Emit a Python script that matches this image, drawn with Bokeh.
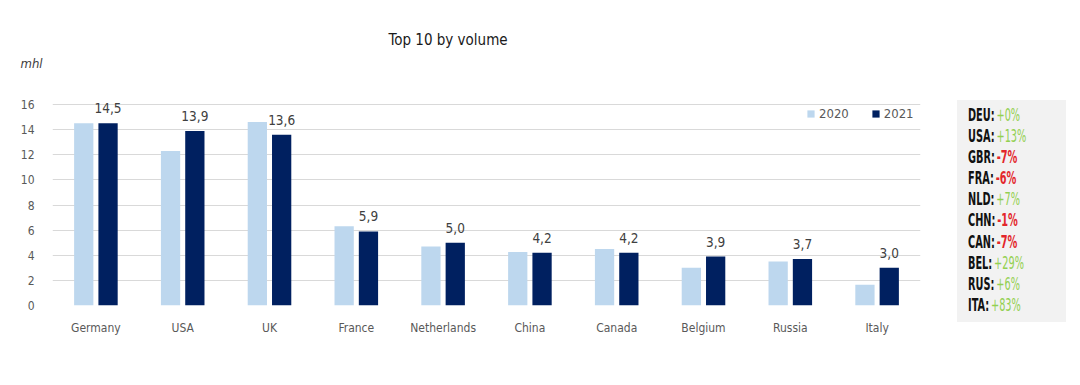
from bokeh.plotting import figure
from bokeh.models import (ColumnDataSource, FactorRange, Range1d, FixedTicker, Legend,
                          LegendItem, Title, Div)
from bokeh.transform import dodge
from bokeh.layouts import row
from bokeh.core.properties import value
from bokeh.embed import file_html
from bokeh.resources import INLINE

countries = ["Germany", "USA", "UK", "France", "Netherlands", "China", "Canada", "Belgium", "Russia", "Italy"]
vol_2020 = [14.5, 12.3, 14.6, 6.3, 4.7, 4.25, 4.5, 3.0, 3.5, 1.65]
vol_2021 = [14.5, 13.9, 13.6, 5.9, 5.0, 4.2, 4.2, 3.9, 3.7, 3.0]
labels_2021 = ["14,5", "13,9", "13,6", "5,9", "5,0", "4,2", "4,2", "3,9", "3,7", "3,0"]
y_ticks = [0, 2, 4, 6, 8, 10, 12, 14, 16]
codes = ["DEU:", "USA:", "GBR:", "FRA:", "NLD:", "CHN:", "CAN:", "BEL:", "RUS:", "ITA:"]
changes = ["+0%", "+13%", "-7%", "-6%", "+7%", "-1%", "-7%", "+29%", "+6%", "+83%"]

FONT = "DejaVu Sans Condensed, Roboto, sans-serif"
C20 = "#bdd7ee"
C21 = "#002060"

src = ColumnDataSource(dict(c=countries, v20=vol_2020, v21=vol_2021, lab=labels_2021))

H = 360
p = figure(width=930, height=H, x_range=FactorRange(factors=countries, range_padding=0),
           y_range=Range1d(0, 18.31), output_backend="svg", toolbar_location=None,
           min_border_left=52, min_border_right=10, min_border_top=75, min_border_bottom=55)
p.outline_line_color = None
p.background_fill_color = "white"

r20 = p.vbar(x=dodge("c", -0.14, range=p.x_range), top="v20", width=0.222, source=src,
             fill_color=C20, line_color=None)
r21 = p.vbar(x=dodge("c", 0.14, range=p.x_range), top="v21", width=0.222, source=src,
             fill_color=C21, line_color=None)
p.text(x=dodge("c", 0.14, range=p.x_range), y="v21", text="lab", source=src,
       text_align="center", text_baseline="bottom", y_offset=-10,
       text_font=value(FONT), text_font_size="13.5px", text_color="#404040")

p.xgrid.grid_line_color = None
p.ygrid.grid_line_color = "#d9d9d9"
p.ygrid.ticker = FixedTicker(ticks=y_ticks)
p.yaxis.ticker = FixedTicker(ticks=y_ticks)
for ax in (p.xaxis[0], p.yaxis[0]):
    ax.axis_line_color = None
    ax.major_tick_line_color = None
    ax.minor_tick_line_color = None
    ax.major_label_text_font = FONT
    ax.major_label_text_font_size = "12px"
    ax.major_label_text_color = "#595959"
p.yaxis.major_label_standoff = 12
p.xaxis.major_label_standoff = 9

legend = Legend(items=[LegendItem(label="2020", renderers=[r20]),
                       LegendItem(label="2021", renderers=[r21])],
                orientation="horizontal", location=(754, 184),
                glyph_width=9, glyph_height=9, label_standoff=4, spacing=22,
                label_text_font=FONT, label_text_font_size="13px", label_text_color="#595959",
                label_height=16, padding=0, margin=0, border_line_color=None,
                background_fill_alpha=0)
p.add_layout(legend)

p.title = Title(text="Top 10 by volume", align="left", offset=336, standoff=2,
                text_font=FONT, text_font_style="normal", text_font_size="15px",
                text_color="#1a1a1a")
p.add_layout(Title(text="mhl", align="left", offset=-32, standoff=9,
                   text_font=FONT, text_font_style="italic", text_font_size="13px",
                   text_color="#404040"), "above")

# side box with year-on-year changes
lines = []
for c, ch in zip(codes, changes):
    neg = ch.startswith("-")
    col = "#e3262b" if neg else "#92d050"
    wt = "bold" if neg else "normal"
    lines.append(f'<div style="transform:scaleX(0.62);transform-origin:left center;white-space:nowrap">'
                 f'<span style="color:#111;font-weight:bold">{c}</span>'
                 f'<span style="color:{col};font-weight:{wt};margin-left:3px">{ch}</span></div>')
side_html = (
    '<div style="box-sizing:border-box;margin-left:27px;margin-top:100px;width:109px;height:222px;'
    'padding:5px 0 0 11px;background:#f2f2f2;'
    "font-family:'DejaVu Sans Condensed','Roboto',sans-serif;font-size:17.5px;"
    'line-height:21.1px;">' + "".join(lines) + '</div>'
)
side = Div(text=side_html, width=134, height=H, margin=0)

layout = row(p, side)
open("out.html", "w").write(file_html(layout, INLINE))
